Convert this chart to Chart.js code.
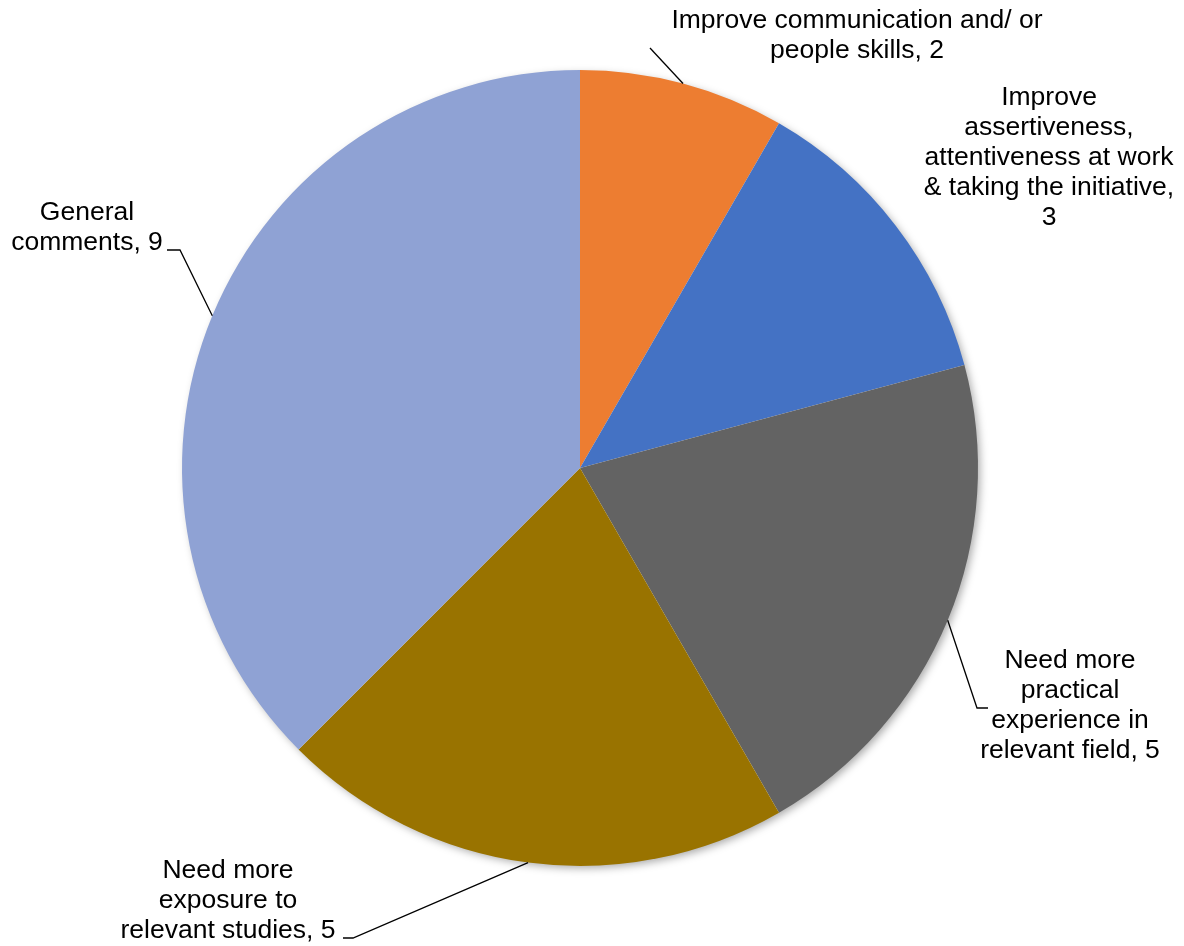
<!DOCTYPE html>
<html>
<head>
<meta charset="utf-8">
<script src="https://cdn.jsdelivr.net/npm/chart.js@4.4.1/dist/chart.umd.min.js"></script>
<style>
  html, body { margin: 0; padding: 0; background: #fff; }
  #wrap { width: 1184px; height: 946px; position: relative; }
</style>
</head>
<body>
<div id="wrap"><canvas id="pieChart" width="1184" height="946"></canvas></div>
<script>
// data
const categories = [
  "Improve communication and/ or people skills",
  "Improve assertiveness, attentiveness at work & taking the initiative",
  "Need more practical experience in relevant field",
  "Need more exposure to relevant studies",
  "General comments"
];
const counts = [2, 3, 5, 5, 9];
const sliceColors = ["#ED7D31", "#4472C4", "#636363", "#997300", "#8FA2D4"];

// label layout: wrapped lines, text centre, optional leader elbow
const labelLines = [
  ["Improve communication and/ or", "people skills, 2"],
  ["Improve", "assertiveness,", "attentiveness at work", "& taking the initiative,", "3"],
  ["Need more", "practical", "experience in", "relevant field, 5"],
  ["Need more", "exposure to", "relevant studies, 5"],
  ["General", "comments, 9"]
];
const labelBoxes = [
  { x: 857, y: 21, leader: [[650, 48]] },
  { x: 1049, y: 98, leader: null },
  { x: 1070, y: 661, leader: [[977, 708], [988, 708]] },
  { x: 228, y: 871, leader: [[353, 938], [343, 938]] },
  { x: 87, y: 213, leader: [[180, 250], [167, 250]] }
];
const lineGap = 30;

// soft drop shadow behind the pie
const pieShadow = {
  id: "pieShadow",
  beforeDatasetsDraw(chart) {
    const arc = chart.getDatasetMeta(0).data[0];
    if (!arc) return;
    const ctx = chart.ctx;
    ctx.save();
    ctx.shadowColor = "rgba(0,0,0,0.35)";
    ctx.shadowBlur = 9;
    ctx.shadowOffsetX = 3;
    ctx.shadowOffsetY = 3;
    ctx.fillStyle = "#fff";
    ctx.beginPath();
    ctx.arc(arc.x, arc.y, arc.outerRadius - 1, 0, Math.PI * 2);
    ctx.fill();
    ctx.restore();
  }
};

// outside labels with leader lines
const outsideLabels = {
  id: "outsideLabels",
  afterDatasetsDraw(chart) {
    const ctx = chart.ctx;
    const arcs = chart.getDatasetMeta(0).data;
    ctx.save();
    arcs.forEach((arc, i) => {
      const box = labelBoxes[i];
      if (box.leader) {
        const mid = (arc.startAngle + arc.endAngle) / 2;
        const sx = arc.x + Math.cos(mid) * arc.outerRadius;
        const sy = arc.y + Math.sin(mid) * arc.outerRadius;
        ctx.strokeStyle = "#000";
        ctx.lineWidth = 1.3;
        ctx.beginPath();
        ctx.moveTo(sx, sy);
        box.leader.forEach(p => ctx.lineTo(p[0], p[1]));
        ctx.stroke();
      }
      ctx.fillStyle = "#000";
      ctx.font = "26.5px 'Liberation Sans', Arial, sans-serif";
      ctx.textAlign = "center";
      ctx.textBaseline = "middle";
      labelLines[i].forEach((t, k) => {
        ctx.fillText(t, box.x, box.y + k * lineGap);
      });
    });
    ctx.restore();
  }
};

const ctx = document.getElementById("pieChart").getContext("2d");
new Chart(ctx, {
  type: "pie",
  data: {
    labels: categories,
    datasets: [{
      data: counts,
      backgroundColor: sliceColors,
      borderWidth: 0
    }]
  },
  options: {
    responsive: false,
    animation: false,
    layout: { padding: { left: 182, right: 206, top: 70, bottom: 80 } },
    plugins: {
      legend: { display: false },
      tooltip: { enabled: false }
    }
  },
  plugins: [pieShadow, outsideLabels]
});
</script>
</body>
</html>
